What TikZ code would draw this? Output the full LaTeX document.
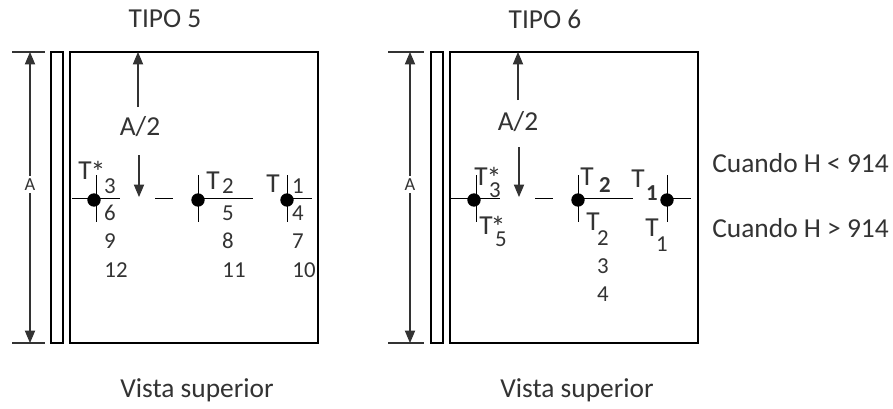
\documentclass[tikz,border=0pt]{standalone}
\usepackage{fontspec}
\setmainfont{Carlito}
\usetikzlibrary{arrows}
\definecolor{inktext}{gray}{0.2}
\definecolor{inkdim}{gray}{0.2}

\begin{document}
\begin{tikzpicture}[x=0.02cm,y=-0.02cm,
    txt/.style={inner sep=0pt,text=inktext,font=\fontsize{15.6}{18}\selectfont},
    small/.style={inner sep=0pt,text=inktext,font=\fontsize{13}{15}\selectfont},
    starmark/.style={inner sep=0pt,text=inktext,font=\fontsize{17}{18}\selectfont},
    tiny/.style={inner sep=1.5pt,fill=white,text=inktext,font=\fontsize{10.5}{12}\selectfont},
    wall/.style={line width=1.1pt},
    thin/.style={line width=0.55pt},
    dimline/.style={line width=0.6pt,color=inkdim},
    dot/.style={circle,fill=black,inner sep=0pt,minimum size=7.6pt}]
  \useasboundingbox (0,0) rectangle (893,409);

  % TIPO 5
  \node [txt] (title5) at (165,19) {TIPO 5};
  \node [txt] (view5) at (197,390) {Vista superior};

  \coordinate (Wa) at (51,52);
  \coordinate (Wb) at (63,343);
  \coordinate (Ra) at (70,52);
  \coordinate (Rb) at (318,343);
  \draw [wall] (Wa) rectangle (Wb);
  \draw [wall] (Ra) rectangle (Rb);

  \coordinate (Ta) at (12,52);
  \coordinate (Tb) at (45,52);
  \coordinate (Ba) at (12,343);
  \coordinate (Bb) at (45,343);
  \coordinate (Da) at (30,52);
  \coordinate (Db) at (30,343);
  \draw [dimline] (Ta) -- (Tb);
  \draw [dimline] (Ba) -- (Bb);
  \draw [dimline,triangle 45-triangle 45] (Da) -- (Db) node [tiny,pos=0.454] (A5) {A};

  \node [txt] (half5) at (140,127) {A/2};
  \coordinate (Ha) at (138,52);
  \coordinate (Hb) at (139,197);
  \coordinate (Hc) at (138,107);
  \coordinate (Hd) at (139,155);
  \draw [dimline,-triangle 45] (Hc) -- (Ha);
  \draw [dimline,-triangle 45] (Hd) -- (Hb);

  \node [dot] (d1) at (94,200) {};
  \node [dot] (d2) at (198,200) {};
  \node [dot] (d3) at (287,200) {};

  % center line pieces
  \coordinate (La) at (72,198);
  \coordinate (Lb) at (120,198);
  \coordinate (Lc) at (155,198);
  \coordinate (Ld) at (173,198);
  \coordinate (Le) at (253,198);
  \coordinate (Lf) at (312,198);
  \draw [thin] (La) -- (Lb);
  \draw [thin] (Lc) -- (Ld);
  \draw [thin] (d2) ++(0,-2) -- (Le);
  \draw [thin] (d3) ++(0,-2) -- (Lf);

  \coordinate (Va) at (96,175);
  \coordinate (Vb) at (96,222);
  \coordinate (Vc) at (198,175);
  \coordinate (Vd) at (198,222);
  \coordinate (Ve) at (287,175);
  \coordinate (Vf) at (287,222);
  \draw [thin] (Va) -- (Vb);
  \draw [thin] (Vc) -- (Vd);
  \draw [thin] (Ve) -- (Vf);

  \node [txt] (t1) at (85,171) {T};
  \node [starmark] (t1s) at (98,172) {*};
  \node [small] (n3) at (110,186) {3};
  \node [small] (n6) at (110,213) {6};
  \node [small] (n9) at (110,241) {9};
  \node [small] (n12) at (116,270) {12};

  \node [txt] (t2) at (213,181) {T};
  \node [small] (n2) at (228,186) {2};
  \node [small] (n5) at (228,213) {5};
  \node [small] (n8) at (228,241) {8};
  \node [small] (n11) at (234,270) {11};

  \node [txt] (t3) at (273,184) {T};
  \node [small] (n1) at (298,186) {1};
  \node [small] (n4) at (298,213) {4};
  \node [small] (n7) at (298,241) {7};
  \node [small] (n10) at (304,270) {10};

  % TIPO 6
  \node [txt] (title6) at (545,19) {TIPO 6};
  \node [txt] (view6) at (577,390) {Vista superior};

  \coordinate (Wc) at (431,52);
  \coordinate (Wd) at (443,343);
  \coordinate (Rc) at (450,52);
  \coordinate (Rd) at (698,343);
  \draw [wall] (Wc) rectangle (Wd);
  \draw [wall] (Rc) rectangle (Rd);

  \coordinate (Tc) at (388,52);
  \coordinate (Td) at (424,52);
  \coordinate (Bc) at (388,343);
  \coordinate (Bd) at (424,343);
  \coordinate (Dc) at (410,52);
  \coordinate (Dd) at (410,343);
  \draw [dimline] (Tc) -- (Td);
  \draw [dimline] (Bc) -- (Bd);
  \draw [dimline,triangle 45-triangle 45] (Dc) -- (Dd) node [tiny,pos=0.454] (A6) {A};

  \node [txt] (half6) at (518,122) {A/2};
  \coordinate (He) at (518,52);
  \coordinate (Hf) at (519,197);
  \coordinate (Hg) at (518,100);
  \coordinate (Hh) at (519,147);
  \draw [dimline,-triangle 45] (Hg) -- (He);
  \draw [dimline,-triangle 45] (Hh) -- (Hf);

  \node [dot] (d4) at (474,200) {};
  \node [dot] (d5) at (578,200) {};
  \node [dot] (d6) at (667,200) {};

  \coordinate (Lg) at (451,198);
  \coordinate (Lh) at (500,198);
  \coordinate (Li) at (535,198);
  \coordinate (Lj) at (553,198);
  \coordinate (Lk) at (633,198);
  \coordinate (Ll) at (691,198);
  \draw [thin] (Lg) -- (Lh);
  \draw [thin] (Li) -- (Lj);
  \draw [thin] (d5) ++(0,-2) -- (Lk);
  \draw [thin] (d6) ++(0,-2) -- (Ll);

  \coordinate (Vg) at (476,175);
  \coordinate (Vh) at (476,222);
  \coordinate (Vi) at (578,175);
  \coordinate (Vj) at (578,222);
  \coordinate (Vk) at (667,175);
  \coordinate (Vl) at (667,222);
  \draw [thin] (Vg) -- (Vh);
  \draw [thin] (Vi) -- (Vj);
  \draw [thin] (Vk) -- (Vl);

  \node [txt] (t4) at (481,177) {T};
  \node [starmark] (t4s) at (494,178) {*};
  \node [small] (m3) at (495,190) {3};
  \node [txt] (t5) at (486,226) {T};
  \node [starmark] (t5s) at (498,227) {*};
  \node [small] (m5) at (501,239) {5};

  \node [txt] (t6) at (587,177) {T};
  \node [small,font=\fontsize{13}{15}\selectfont\bfseries] (m2) at (605,185) {2};
  \node [txt] (t7) at (638,179) {T};
  \node [small,font=\fontsize{13}{15}\selectfont\bfseries] (m1) at (652,193) {1};

  \node [txt] (t8) at (593,222) {T};
  \node [small] (k2) at (603,238) {2};
  \node [small] (k3) at (603,266) {3};
  \node [small] (k4) at (603,294) {4};
  \node [txt] (t9) at (652,228) {T};
  \node [small] (k1) at (662,244) {1};

  \node [txt,anchor=west] (less) at (712,163) {Cuando H < 914};
  \node [txt,anchor=west] (more) at (712,228) {Cuando H > 914};
\end{tikzpicture}
\end{document}
